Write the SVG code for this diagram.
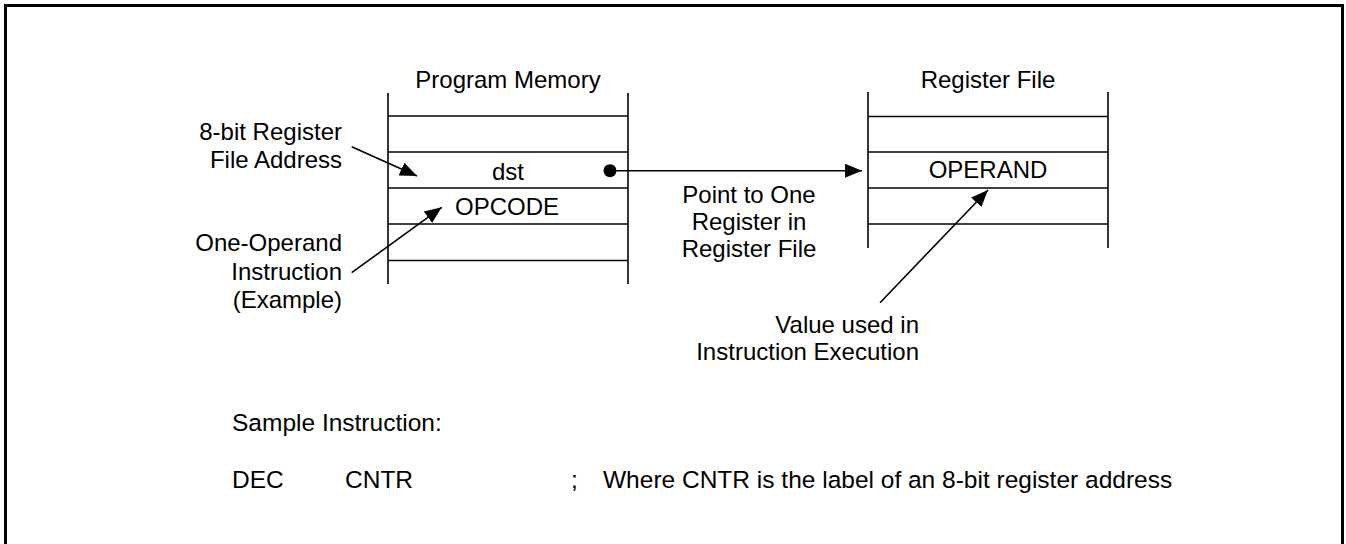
<svg xmlns="http://www.w3.org/2000/svg" width="1346" height="544" viewBox="0 0 1346 544">
  <style>
    text { font-family: "Liberation Sans", Arial, sans-serif; font-size: 24px; fill: #000; }
    .mid { text-anchor: middle; }
    .end { text-anchor: end; }
    .big { font-size: 24.5px; }
    .ln { stroke: #000; stroke-width: 1.6; fill: none; }
    .conn { stroke: #000; stroke-width: 1.6; fill: none; }
  </style>
  <defs>
    <marker id="arrow" markerUnits="userSpaceOnUse" viewBox="0 0 17 14" refX="17" refY="7" markerWidth="17" markerHeight="14" orient="auto">
      <path d="M0,0 L17,7 L0,14 Z" fill="#000"/>
    </marker>
  </defs>
  <rect x="0" y="0" width="1346" height="544" fill="#fff"/>
  <rect id="frame" x="5.5" y="5.5" width="1337" height="600" fill="none" stroke="#000" stroke-width="3"/>

  <g id="program-memory">
    <text class="mid" x="508" y="88">Program Memory</text>
    <line class="ln" x1="388" y1="93" x2="388" y2="284"/>
    <line class="ln" x1="628" y1="93" x2="628" y2="284"/>
    <line class="ln" x1="388" y1="116" x2="628" y2="116"/>
    <line class="ln" x1="388" y1="152" x2="628" y2="152"/>
    <line class="ln" x1="388" y1="188" x2="628" y2="188"/>
    <line class="ln" x1="388" y1="224" x2="628" y2="224"/>
    <line class="ln" x1="388" y1="260.5" x2="628" y2="260.5"/>
    <text class="mid" x="508" y="180">dst</text>
    <text class="mid" x="507" y="215">OPCODE</text>
  </g>

  <g id="register-file">
    <text class="mid" x="988" y="88">Register File</text>
    <line class="ln" x1="868" y1="92" x2="868" y2="248"/>
    <line class="ln" x1="1108" y1="92" x2="1108" y2="248"/>
    <line class="ln" x1="868" y1="116.5" x2="1108" y2="116.5"/>
    <line class="ln" x1="868" y1="152" x2="1108" y2="152"/>
    <line class="ln" x1="868" y1="188" x2="1108" y2="188"/>
    <line class="ln" x1="868" y1="224" x2="1108" y2="224"/>
    <text class="mid" x="988" y="178">OPERAND</text>
  </g>

  <g id="label-address">
    <text class="end" x="342" y="140">8-bit Register</text>
    <text class="end" x="342" y="168">File Address</text>
  </g>
  <g id="label-instruction">
    <text class="end" x="342" y="251">One-Operand</text>
    <text class="end" x="342" y="280">Instruction</text>
    <text class="end" x="342" y="308">(Example)</text>
  </g>
  <g id="label-point">
    <text class="mid" x="749" y="203">Point to One</text>
    <text class="mid" x="749" y="230">Register in</text>
    <text class="mid" x="749" y="257">Register File</text>
  </g>
  <g id="label-value">
    <text class="end" x="919" y="333">Value used in</text>
    <text class="end" x="919" y="360">Instruction Execution</text>
  </g>
  <g id="sample">
    <text class="big" x="232" y="431">Sample Instruction:</text>
    <text class="big" x="232" y="488">DEC</text>
    <text class="big" x="345" y="488">CNTR</text>
    <text class="big" x="571" y="488">;</text>
    <text class="big" x="603" y="488">Where CNTR is the label of an 8-bit register address</text>
  </g>

  <g id="connectors">
    <circle cx="610" cy="170.7" r="6.5" fill="#000"/>
    <line class="conn" x1="610" y1="170.7" x2="862" y2="170.7" marker-end="url(#arrow)"/>
    <line class="conn" x1="351.7" y1="146.7" x2="417" y2="176" marker-end="url(#arrow)"/>
    <line class="conn" x1="351.7" y1="272.7" x2="441.7" y2="207.3" marker-end="url(#arrow)"/>
    <line class="conn" x1="880" y1="302.7" x2="988" y2="190" marker-end="url(#arrow)"/>
  </g>
</svg>
